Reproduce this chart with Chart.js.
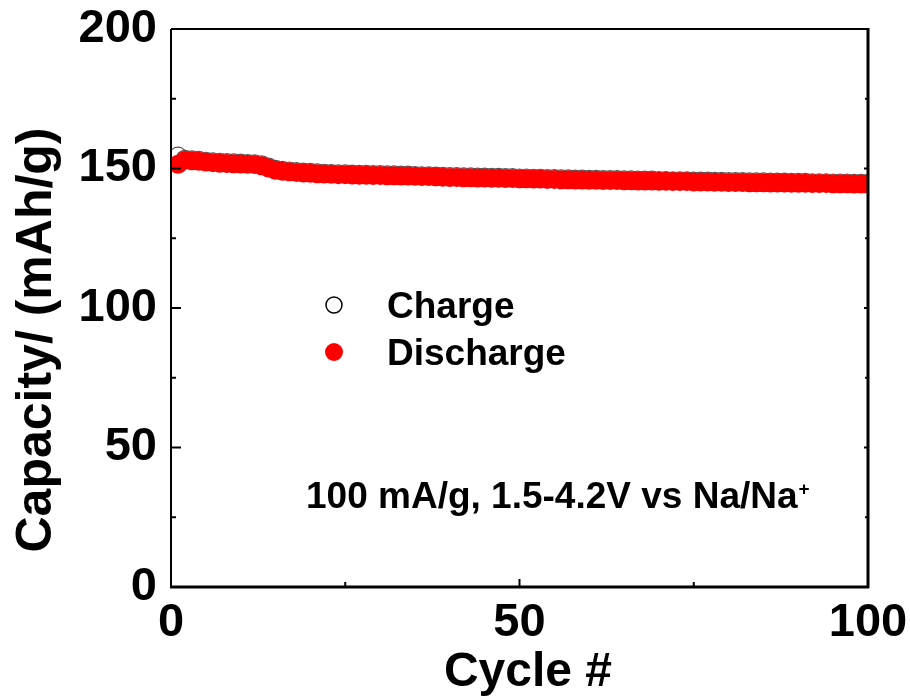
<!DOCTYPE html>
<html>
<head>
<meta charset="utf-8">
<script src="https://cdn.jsdelivr.net/npm/chart.js@4.4.1/dist/chart.umd.min.js"></script>
<style>
html,body{margin:0;padding:0;background:#fff;}
#wrap{width:910px;height:699px;}
</style>
</head>
<body>
<div id="wrap"><canvas id="c" width="910" height="699"></canvas></div>
<script>
const cycles = [];
for (let i = 1; i <= 100; i++) cycles.push(i);

const dischargeCapacity = [
  151.5,153.0,152.8,152.6,152.3,152.1,151.9,151.8,151.7,151.6,
  151.5,151.4,151.0,150.2,149.4,149.0,148.8,148.6,148.4,148.3,
  148.1,148.0,147.9,147.8,147.8,147.7,147.6,147.6,147.5,147.5,
  147.4,147.4,147.3,147.3,147.2,147.1,147.1,147.0,146.9,146.8,
  146.8,146.7,146.7,146.6,146.6,146.5,146.5,146.4,146.4,146.3,
  146.3,146.2,146.2,146.1,146.1,146.0,146.0,145.9,145.9,145.8,
  145.8,145.7,145.7,145.7,145.6,145.6,145.5,145.5,145.5,145.4,
  145.4,145.3,145.3,145.3,145.2,145.2,145.2,145.1,145.1,145.0,
  145.0,145.0,144.9,144.9,144.9,144.8,144.8,144.8,144.7,144.7,
  144.7,144.6,144.6,144.6,144.5,144.5,144.5,144.4,144.4,144.4
];

const chargeCapacity = [
  154.4,153.3,153.1,152.9,152.6,152.4,152.2,152.1,152.0,151.9,
  151.8,151.7,151.3,150.5,149.7,149.3,149.1,148.9,148.7,148.6,
  148.4,148.3,148.2,148.1,148.1,148.0,147.9,147.9,147.8,147.8,
  147.7,147.7,147.6,147.6,147.5,147.4,147.4,147.3,147.2,147.1,
  147.1,147.0,147.0,146.9,146.9,146.8,146.8,146.7,146.7,146.6,
  146.6,146.5,146.5,146.4,146.4,146.3,146.3,146.2,146.2,146.1,
  146.1,146.0,146.0,146.0,145.9,145.9,145.8,145.8,145.8,145.7,
  145.7,145.6,145.6,145.6,145.5,145.5,145.5,145.4,145.4,145.3,
  145.3,145.3,145.2,145.2,145.2,145.1,145.1,145.1,145.0,145.0,
  145.0,144.9,144.9,144.9,144.8,144.8,144.8,144.7,144.7,144.7
];

const xTicks = [0, 50, 100];
const xMinorTicks = [25, 75];
const yTicks = [0, 50, 100, 150, 200];
const yMinorTicks = [25, 75, 125, 175];

const seriesLabels = ['Charge', 'Discharge'];
const xTitle = 'Cycle #';
const yTitle = 'Capacity/ (mAh/g)';
const noteText = '100 mA/g, 1.5-4.2V vs Na/Na';
const noteSup = '+';

const FONT = '"Liberation Sans", Arial, Helvetica, sans-serif';

function zeroPad(s) {
  s.paddingLeft = 0; s.paddingRight = 0; s.paddingTop = 0; s.paddingBottom = 0;
}

const decorPlugin = {
  id: 'decor',
  afterDatasetsDraw(chart) {
    const ctx = chart.ctx;
    const xs = chart.scales.x, ys = chart.scales.y;
    const L = xs.left, R = xs.right, T = ys.top, B = ys.bottom;
    ctx.save();
    ctx.strokeStyle = '#000';
    ctx.lineCap = 'butt';
    // ticks
    ctx.lineWidth = 2;
    yTicks.forEach(v => {
      const p = ys.getPixelForValue(v);
      ctx.beginPath(); ctx.moveTo(L, p); ctx.lineTo(L + 10, p); ctx.stroke();
      ctx.beginPath(); ctx.moveTo(R, p); ctx.lineTo(R - 4, p); ctx.stroke();
    });
    yMinorTicks.forEach(v => {
      const p = ys.getPixelForValue(v);
      ctx.beginPath(); ctx.moveTo(L, p); ctx.lineTo(L + 5, p); ctx.stroke();
      ctx.beginPath(); ctx.moveTo(R, p); ctx.lineTo(R - 3, p); ctx.stroke();
    });
    xTicks.forEach(v => {
      const p = xs.getPixelForValue(v);
      ctx.beginPath(); ctx.moveTo(p, B); ctx.lineTo(p, B - 8); ctx.stroke();
    });
    xMinorTicks.forEach(v => {
      const p = xs.getPixelForValue(v);
      ctx.beginPath(); ctx.moveTo(p, B); ctx.lineTo(p, B - 5); ctx.stroke();
    });
    // frame
    ctx.lineWidth = 2;
    ctx.beginPath(); ctx.moveTo(L, T); ctx.lineTo(R, T); ctx.stroke();
    ctx.beginPath(); ctx.moveTo(L, T); ctx.lineTo(L, B + 1); ctx.stroke();
    ctx.lineWidth = 3;
    ctx.beginPath(); ctx.moveTo(R, T - 1); ctx.lineTo(R, B + 1); ctx.stroke();
    ctx.beginPath(); ctx.moveTo(L - 1, B); ctx.lineTo(R + 1, B); ctx.stroke();

    // legend
    const ds = chart.data.datasets;
    const items = [
      {ds: ds[1], cy: 305, r: 8},
      {ds: ds[0], cy: 352, r: 9}
    ];
    items.forEach(it => {
      ctx.beginPath();
      ctx.arc(334, it.cy, it.r, 0, Math.PI * 2);
      ctx.fillStyle = it.ds.backgroundColor;
      ctx.fill();
      if (it.ds.borderWidth > 0) {
        ctx.lineWidth = 1.5;
        ctx.strokeStyle = '#000';
        ctx.stroke();
      }
      ctx.fillStyle = '#000';
      ctx.font = 'bold 37px ' + FONT;
      ctx.textAlign = 'left';
      ctx.textBaseline = 'alphabetic';
      ctx.fillText(it.ds.label, 387, it.cy + 13);
    });

    // note
    ctx.font = 'bold 37px ' + FONT;
    ctx.fillStyle = '#000';
    ctx.textAlign = 'left';
    ctx.textBaseline = 'alphabetic';
    ctx.fillText(noteText, 306, 508);
    const w = ctx.measureText(noteText).width;
    ctx.font = 'bold 19px ' + FONT;
    ctx.fillText(noteSup, 306 + w + 1, 495);

    // y title
    ctx.save();
    ctx.font = 'bold 50px ' + FONT;
    ctx.translate(51, 340);
    ctx.rotate(-Math.PI / 2);
    ctx.textAlign = 'center';
    ctx.textBaseline = 'alphabetic';
    ctx.fillText(yTitle, 0, 0);
    ctx.restore();

    // x title
    ctx.font = 'bold 48px ' + FONT;
    ctx.textAlign = 'center';
    ctx.textBaseline = 'alphabetic';
    ctx.fillText(xTitle, 528, 686);

    ctx.restore();
  }
};

new Chart(document.getElementById('c'), {
  type: 'scatter',
  data: {
    datasets: [
      {
        label: seriesLabels[1],
        data: cycles.map((c, i) => ({x: c, y: dischargeCapacity[i]})),
        backgroundColor: '#ff0000',
        borderColor: '#ff0000',
        borderWidth: 0,
        pointRadius: 9.5,
        order: 1
      },
      {
        label: seriesLabels[0],
        data: cycles.map((c, i) => ({x: c, y: chargeCapacity[i]})),
        backgroundColor: '#ffffff',
        borderColor: '#555555',
        borderWidth: 1.2,
        pointRadius: 9,
        order: 2
      }
    ]
  },
  options: {
    responsive: false,
    animation: false,
    devicePixelRatio: 1,
    layout: {padding: {left: 0, top: 29, right: 42, bottom: 0}},
    plugins: {legend: {display: false}, tooltip: {enabled: false}},
    scales: {
      x: {
        type: 'linear', min: 0, max: 100,
        afterFit(s) { s.height = 112; zeroPad(s); },
        afterBuildTicks(s) { s.ticks = xTicks.map(v => ({value: v})); },
        grid: {display: false, drawTicks: false},
        border: {display: false},
        ticks: {
          padding: 8,
          color: '#000',
          font: {family: FONT, size: 47, weight: 'bold'},
          maxRotation: 0
        },
        title: {display: false}
      },
      y: {
        type: 'linear', min: 0, max: 200,
        afterFit(s) { s.width = 171; zeroPad(s); },
        afterBuildTicks(s) { s.ticks = yTicks.map(v => ({value: v})); },
        grid: {display: false, drawTicks: false},
        border: {display: false},
        ticks: {
          padding: 14,
          color: '#000',
          font: {family: FONT, size: 47, weight: 'bold'}
        },
        title: {display: false}
      }
    }
  },
  plugins: [decorPlugin]
});
</script>
</body>
</html>
